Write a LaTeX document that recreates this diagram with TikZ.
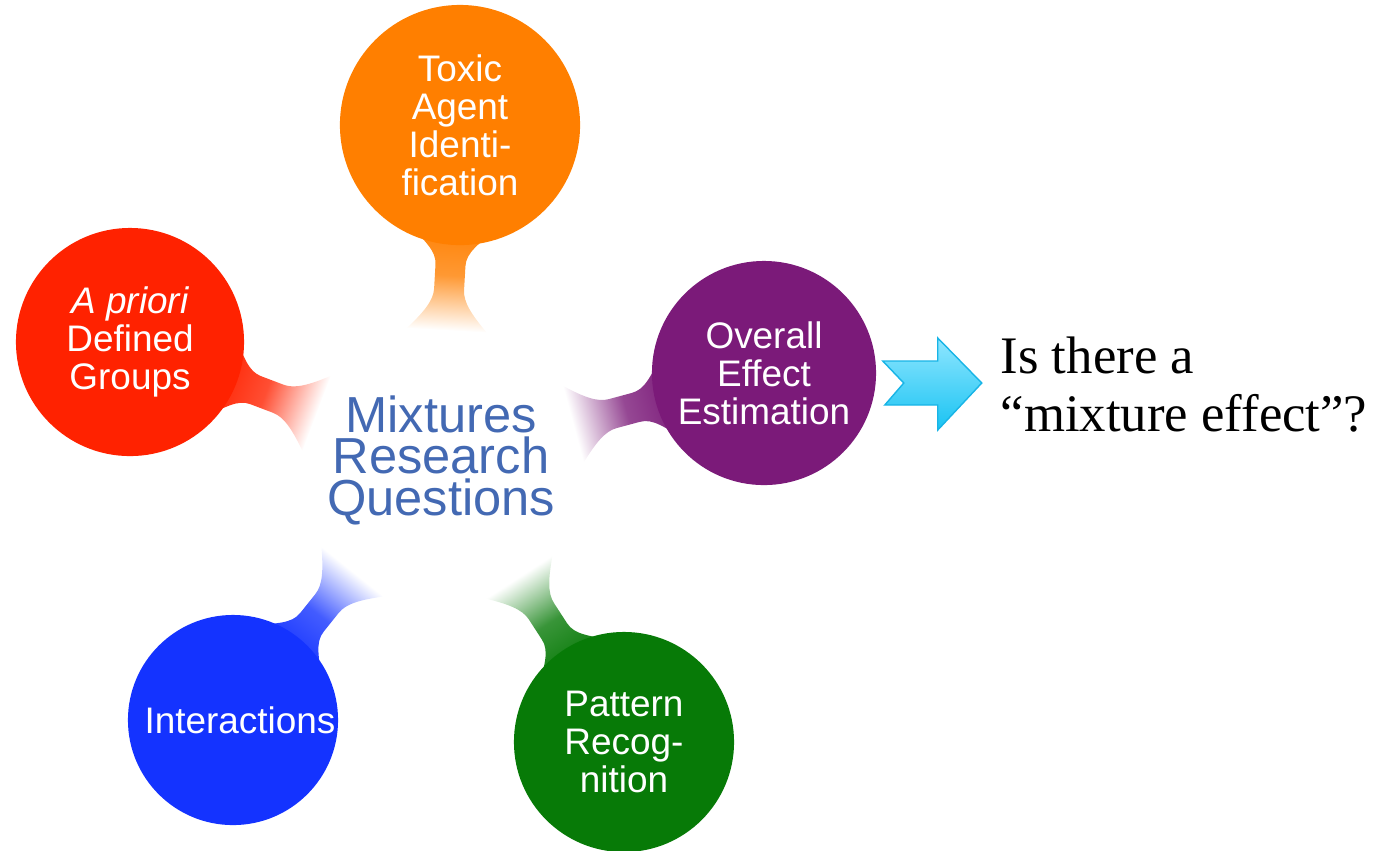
\documentclass[tikz,border=0pt]{standalone}
\usepackage{fontspec}
\setmainfont{Liberation Serif}
\setsansfont{Liberation Sans}
\usepackage{tikz}
\usepackage{xcolor}
\usetikzlibrary{calc,backgrounds}
\definecolor{ToxicOrange}{HTML}{FF7F00}
\definecolor{GroupRed}{HTML}{FF2200}
\definecolor{EffectPurple}{HTML}{7B1A79}
\definecolor{InteractBlue}{HTML}{1433FF}
\definecolor{PatternGreen}{HTML}{077A07}
\definecolor{HubBlue}{HTML}{4369B3}
\definecolor{ArrowCyan}{HTML}{19C3F2}
\definecolor{ArrowSky}{HTML}{8FE6FF}
\definecolor{ArrowEdge}{HTML}{18B4E6}

\begin{document}
\begin{tikzpicture}[x=0.01cm,y=-0.01cm,
    bubble/.style={circle,inner sep=0pt,text=white,align=center,
      font=\sffamily\fontsize{10.5}{10.8}\selectfont},
    stemfade/.style={left color=#1,right color=white,middle color=#1!80}]
  \useasboundingbox (0,0) rectangle (1378,850);
  \node[font=\sffamily\fontsize{14.4}{11.8}\selectfont,text=HubBlue,align=center] (hub) at (441,460)
    {Mixtures\\Research\\Questions};
  \node[bubble,fill=ToxicOrange,minimum size=2.4cm] (toxic) at (460,125)
    {Toxic\\Agent\\Identi-\\fication};
  \node[bubble,fill=GroupRed,minimum size=2.28cm] (apriori) at (130,342)
    {{\itshape A priori}\\Defined\\Groups};
  \node[bubble,fill=EffectPurple,minimum size=2.24cm] (overall) at (764,373)
    {Overall\\Effect\\Estimation};
  \node[bubble,fill=InteractBlue,minimum size=2.1cm] (interact) at (233,720)
    {\hspace*{0.14cm}Interactions};
  \node[bubble,fill=PatternGreen,minimum size=2.2cm] (pattern) at (624,742)
    {Pattern\\Recog-\\nition};
  \node[font=\fontsize{15}{16.5}\selectfont,align=left,anchor=north west,inner sep=0pt] (question) at (1000,336)
    {Is there a\\``mixture effect''?};
  \begin{scope}[on background layer]
    \foreach \bub/\col in {toxic/ToxicOrange,apriori/GroupRed,overall/EffectPurple,
                           interact/InteractBlue,pattern/PatternGreen}{
      \pgfmathanglebetweenpoints{\pgfpointanchor{\bub}{center}}{\pgfpointanchor{hub}{center}}
      \let\stemangle\pgfmathresult
      \begin{scope}[transform canvas={shift={(\bub.\stemangle)},rotate=\stemangle}]
        \shade[stemfade=\col]
          (-25,-50) .. controls (-2,-26) and (6,-15) .. (20,-15) -- (44,-15)
          .. controls (56,-15) and (68,-24) .. (85,-40) -- (85,40)
          .. controls (68,24) and (56,15) .. (44,15) -- (20,15)
          .. controls (6,15) and (-2,26) .. (-25,50) -- cycle;
      \end{scope}
    }
  \end{scope}
  \shade[top color=ArrowSky,bottom color=ArrowCyan,draw=ArrowEdge,line width=0.4pt]
    ($(overall.east)+(6,-12)$) -- ++(21,22) -- ++(-19,22) -- ++(53,0) -- ++(0,25)
    -- ++(44,-47) -- ++(-44,-45) -- ++(0,23) -- cycle;
\end{tikzpicture}
\end{document}
